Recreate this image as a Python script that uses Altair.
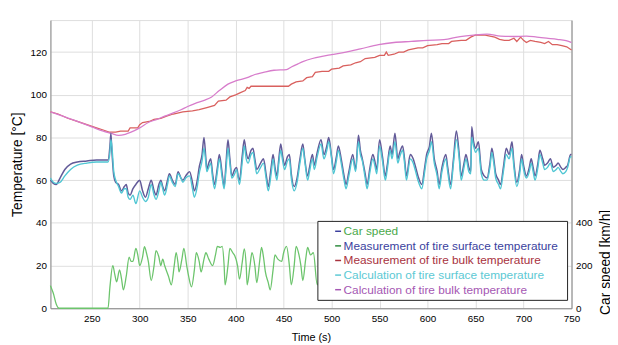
import altair as alt
import pandas as pd

# ---------------- data ----------------
# Tire surface temperature: time (s), measurement, calculation (°C)
surf_t = [207, 210, 213, 217, 222, 228, 235, 245, 255, 262,
          267, 269, 270, 271, 273, 275, 278, 281, 284, 286,
          288, 290, 293, 296, 300, 303, 306, 309, 312, 315,
          317, 320, 322, 324, 326, 329, 331, 334, 337, 340,
          343, 345, 348, 352, 355, 357, 360, 362, 365, 367,
          369, 370, 372, 374, 376, 378, 381, 383, 386, 388,
          390, 392, 394, 396, 399, 401, 403, 404, 407, 409,
          411, 413, 416, 418, 420, 422, 426, 429, 432, 434,
          437, 439, 441, 443, 445, 447, 449, 451, 454, 456,
          458, 461, 464, 467, 470, 472, 475, 477, 480, 482,
          485, 489, 492, 495, 497, 500, 502, 505, 507, 510,
          513, 515, 518, 522, 525, 528, 530, 532, 535, 537,
          540, 543, 545, 547, 550, 553, 556, 558, 561, 563,
          566, 569, 571, 574, 576, 578, 582, 585, 587, 590,
          594, 597, 599, 602, 604, 607, 610, 612, 615, 619,
          621, 624, 627, 630, 633, 635, 638, 640, 643, 645,
          646, 648, 650, 653, 656, 659, 662, 665, 667, 669,
          671, 674, 676, 679, 682, 685, 688, 690, 693, 696,
          698, 700, 703, 706, 708, 710, 712, 715, 717, 720,
          722, 725, 728, 731, 734, 736, 739, 741, 744, 746,
          749, 750]
surf_meas = [60, 58.5, 58, 61, 65, 67.5, 68.5, 69, 69.5, 69.5,
             69.5, 76, 82, 74, 62, 59, 58, 55, 57, 58,
             54, 53, 56, 58, 60, 55, 52, 56, 60, 55,
             53, 58, 60, 57, 55, 60, 63, 60, 58, 64,
             61, 60, 62, 64, 59, 55, 60, 66, 72, 80,
             70, 65, 68, 70, 63, 58, 66, 72, 63, 57,
             68, 79, 70, 62, 65, 66, 61, 60, 72, 79,
             73, 70, 74, 75, 70, 65, 68, 70, 62, 57,
             66, 72, 66, 62, 70, 77, 71, 67, 71, 72,
             63, 57, 61, 70, 77, 70, 62, 66, 72, 67,
             73, 79, 72, 76, 80, 71, 65, 71, 76, 70,
             62, 58, 64, 72, 65, 81, 74, 70, 63, 58,
             66, 72, 69, 65, 79, 71, 62, 67, 76, 72,
             82, 70, 73, 76, 70, 62, 72, 70, 67, 62,
             58, 66, 72, 76, 82, 70, 64, 58, 66, 72,
             66, 58, 70, 83, 72, 62, 68, 72, 66, 64,
             85, 78, 75, 78, 65, 62, 61, 68, 75, 70,
             63, 60, 58, 66, 75, 72, 78, 68, 59, 65,
             72, 67, 62, 66, 70, 66, 62, 68, 74, 70,
             67, 68, 70, 66, 67, 68, 66, 65, 66, 67,
             72, 72]
surf_calc = [61, 59, 58.5, 59, 62, 65, 67, 68, 68.5, 68.5,
             68.5, 73, 79, 76, 64, 60, 57, 54, 56, 56,
             52, 51, 53, 49, 55, 52, 50, 52, 58, 53,
             51, 55, 59, 56, 53, 58, 62, 59, 57, 63,
             61, 59, 61, 62, 56, 52, 57, 63, 69, 75,
             68, 64, 66, 68, 61, 56, 64, 70, 61, 56,
             65, 75, 68, 61, 63, 65, 60, 58, 69, 76,
             70, 68, 72, 73, 68, 63, 66, 68, 60, 55,
             63, 70, 64, 60, 68, 74, 69, 65, 69, 70,
             61, 55, 59, 68, 75, 69, 60, 64, 70, 65,
             71, 77, 70, 74, 78, 70, 63, 69, 74, 68,
             60, 56, 62, 70, 64, 78, 72, 69, 61, 56,
             64, 70, 67, 63, 76, 69, 60, 65, 74, 70,
             78, 68, 71, 74, 68, 60, 70, 68, 65, 60,
             56, 64, 70, 74, 78, 68, 62, 56, 64, 70,
             64, 56, 68, 79, 70, 60, 66, 70, 64, 63,
             80, 76, 73, 75, 63, 60, 60, 66, 73, 68,
             61, 58, 56, 64, 72, 70, 75, 66, 57, 63,
             70, 65, 61, 64, 68, 64, 60, 66, 72, 68,
             65, 66, 68, 64, 65, 66, 64, 63, 64, 66,
             71, 71]

# Tire bulk temperature, measurement
bulk_meas_t = [207, 215, 225, 235, 245, 255, 262, 268, 275, 280,
               288, 290, 298, 300, 303, 310, 315, 322, 328, 335,
               345, 355, 362, 370, 378, 382, 390, 394, 400, 405,
               410, 412, 414, 416, 425, 435, 445, 455, 458, 463,
               470, 474, 480, 483, 490, 497, 500, 508, 512, 520,
               525, 530, 535, 545, 550, 555, 557, 559, 565, 570,
               575, 580, 585, 590, 595, 600, 610, 615, 622, 625,
               635, 640, 645, 650, 655, 660, 665, 670, 675, 680,
               685, 690, 693, 697, 700, 703, 707, 712, 718, 722,
               726, 730, 735, 740, 745, 750]
bulk_meas = [92, 91, 89, 87.5, 86, 84.5, 83.5, 82.5, 82.5, 83,
             83, 84.5, 84.5, 86, 87, 87.5, 88.5, 89, 90, 91,
             92, 92.5, 93, 94, 95, 97, 97.5, 99, 100, 101,
             102, 103.5, 103, 104, 104, 104, 104, 104, 105, 106,
             106.5, 108, 108.5, 110.5, 111, 111, 112, 112.5, 113.5, 114,
             115, 115.5, 117, 117.5, 118.5, 118.5, 120, 118.5, 119, 120,
             120, 121, 121.5, 122, 122, 123, 123.5, 124, 124, 125,
             125.5, 125.5, 127, 128, 128, 128, 127.5, 127, 126, 125.5,
             125.5, 126.5, 125, 127, 125.5, 124.5, 125.5, 125, 124.5, 124,
             125, 123.5, 123.5, 123, 122.5, 121]

# Tire bulk temperature, calculation
bulk_calc_t = [207, 220, 235, 250, 262, 270, 278, 285, 291, 300,
               309, 318, 326, 335, 343, 350, 358, 368, 375, 383,
               392, 400, 412, 420, 429, 440, 453, 458, 465, 470,
               480, 490, 500, 515, 530, 549, 565, 583, 600, 617,
               634, 648, 662, 676, 690, 703, 714, 724, 735, 749,
               750]
bulk_calc = [92, 90, 87.5, 85, 83, 82, 81, 81.5, 82.5, 84.5,
             87, 88.5, 90, 91.5, 93, 94.5, 96, 97.5, 99, 102,
             105, 106.5, 108, 109.5, 110.5, 111.5, 111.8, 113, 114.5, 115.5,
             117, 118, 118.8, 120, 121.5, 123.5, 124.5, 125, 125.5, 125.8,
             127.3, 128, 128.4, 127.5, 127.3, 127.5, 127, 126.5, 126, 124.7,
             124.5]

# Car speed (km/h)
speed_t = [207, 210, 213, 216, 267, 269, 272, 274, 276, 279,
           281, 283, 286, 289, 291, 293, 296, 298, 300, 303,
           305, 307, 309, 312, 315, 317, 320, 322, 324, 326,
           330, 333, 336, 338, 340, 341, 344, 346, 349, 351,
           354, 357, 359, 362, 364, 367, 369, 372, 376, 379,
           381, 384, 386, 388, 389, 392, 394, 397, 399, 402,
           404, 407, 409, 411, 412, 415, 417, 420, 422, 425,
           427, 429, 431, 434, 436, 439, 441, 444, 448, 450,
           453, 456, 458, 461, 463, 466, 468, 470, 473, 475,
           478, 481, 485, 488]
speed = [106, 70, 20, 0, 0, 100, 200, 160, 124, 180,
         140, 86, 150, 240, 220, 220, 280, 250, 200, 240,
         289, 260, 220, 130, 200, 270, 240, 200, 230, 200,
         150, 110, 200, 260, 210, 170, 230, 280, 200, 150,
         100, 180, 260, 220, 170, 230, 260, 230, 200, 250,
         290, 285, 290, 200, 110, 200, 280, 260, 247, 200,
         136, 220, 278, 200, 110, 200, 260, 200, 120, 220,
         285, 240, 170, 120, 86, 180, 250, 230, 220, 260,
         290, 200, 110, 200, 290, 250, 200, 130, 230, 285,
         250, 260, 110, 200]

x_ticks = [250, 300, 350, 400, 450, 500, 550, 600, 650, 700, 750]
y_ticks = [0, 20, 40, 60, 80, 100, 120]
speed_ticks = [0, 200, 400]

legend_labels = ["Car speed",
                 "Measurement of tire surface temperature",
                 "Measurement of tire bulk temperature",
                 "Calculation of tire surface temperature",
                 "Calculation of tire bulk temperature"]
legend_text_colors = ["#4aa84a", "#3b3f9e", "#a8323e", "#5cc9d4", "#a557b3"]
legend_swatch_colors = ["#3b3f9e", "#2e8b3e", "#a8323e", "#5cc9d4", "#a557b3"]

# ---------------- chart ----------------
W, H = 528, 292
FONT = "Liberation Sans"

x_enc = alt.X("t:Q", scale=alt.Scale(domain=[207, 750], nice=False, zero=False),
              axis=alt.Axis(values=x_ticks, title="Time (s)", ticks=False,
                            labelFlush=False, labelPadding=5, titlePadding=9,
                            titleFontSize=11, titleFontWeight="normal"))
y_temp = alt.Y("v:Q", scale=alt.Scale(domain=[0, 135], nice=False),
               axis=alt.Axis(values=y_ticks, title="Temperature [°C]", ticks=False,
                             labelFlush=False, labelPadding=4, titlePadding=6,
                             titleFontSize=14, titleFontWeight="normal"))


def temp_line(ts, vs, color, width=1.3, interp="linear"):
    df = pd.DataFrame({"t": ts, "v": vs})
    return alt.Chart(df).mark_line(color=color, strokeWidth=width,
                                   interpolate=interp).encode(x=x_enc, y=y_temp)


temps = alt.layer(
    temp_line(bulk_meas_t, bulk_meas, "#d9605e"),
    temp_line(bulk_calc_t, bulk_calc, "#d77ccb", 1.3, "monotone"),
    temp_line(surf_t, surf_meas, "#625a98", 1.5, "monotone"),
    temp_line(surf_t, surf_calc, "#4fc6d3", 1.4, "monotone"),
)

speed_df = pd.DataFrame({"t": speed_t, "kmh": speed})
speed_line = alt.Chart(speed_df).mark_line(color="#6cc46c", strokeWidth=1.3,
                                           interpolate="monotone").encode(
    x=x_enc,
    y=alt.Y("kmh:Q", scale=alt.Scale(domain=[0, 1350], nice=False),
            axis=alt.Axis(orient="right", values=speed_ticks, title="Car speed [km/h]",
                          grid=False, ticks=False, labelFlush=False, labelPadding=4,
                          titleFontSize=14, titleFontWeight="normal", titleAngle=270,
                          titleY=245, titleX=35, titleAlign="center",
                          titleBaseline="middle")),
)

# legend (drawn by hand to keep the reference's mismatched swatch colours)
leg_df = pd.DataFrame({"a": [0]})
legend_layers = [
    alt.Chart(leg_df).mark_rect(fill="white", stroke="#222", strokeWidth=1).encode(
        x=alt.value(271), x2=alt.value(524), y=alt.value(204), y2=alt.value(284))
]
row_y = [214, 228.8, 243.6, 258.4, 273.2]
for lab, tc, sc, yy in zip(legend_labels, legend_text_colors, legend_swatch_colors, row_y):
    legend_layers.append(
        alt.Chart(leg_df).mark_rule(color=sc, strokeWidth=1.5).encode(
            x=alt.value(288.5), x2=alt.value(294.5), y=alt.value(yy)))
    legend_layers.append(
        alt.Chart(leg_df).mark_text(text=lab, color=tc, fontSize=12, font=FONT,
                                    align="left", baseline="middle").encode(
            x=alt.value(297), y=alt.value(yy)))

chart = alt.layer(temps, speed_line, *legend_layers).resolve_scale(
    y="independent"
).properties(
    width=W, height=H,
    autosize=alt.AutoSizeParams(type="none"),
    padding={"left": 43, "top": 10, "right": 39, "bottom": 35},
).configure_view(
    stroke="#3a3a3a", strokeWidth=1.2
).configure_axis(
    labelFont=FONT, titleFont=FONT, labelFontSize=11, labelColor="#222",
    titleColor="#111", gridColor="#c9c9c9", gridDash=[1, 2], gridWidth=1,
    domainColor="#333", domainWidth=1.2
).configure(background="white")

chart.save("out.html", embed_options={"renderer": "svg", "actions": False})
